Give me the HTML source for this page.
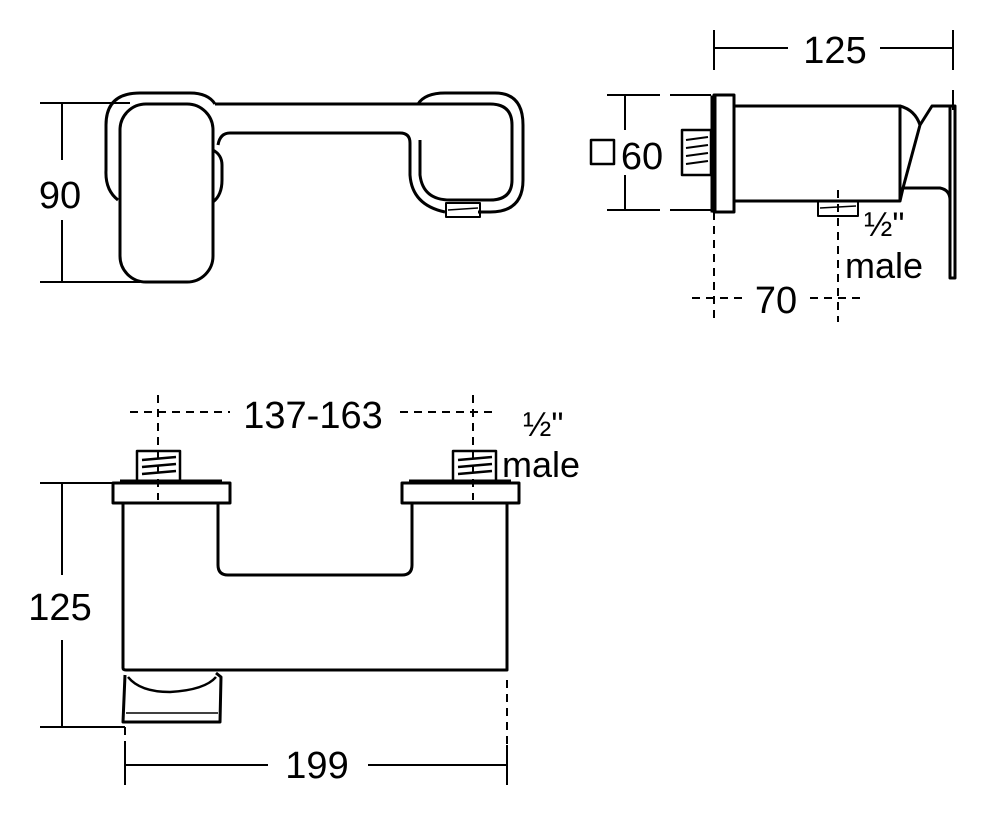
<!DOCTYPE html>
<html><head><style>
html,body{margin:0;padding:0;background:#fff;}
svg{display:block;}
text{font-family:"Liberation Sans",sans-serif;fill:#000;}
</style></head><body>
<svg width="987" height="818" viewBox="0 0 987 818" xmlns="http://www.w3.org/2000/svg">
<g fill="none" stroke="#000" stroke-width="3" stroke-linejoin="round">
<line x1="62" y1="103" x2="62" y2="160" stroke-width="2"/>
<line x1="62" y1="220" x2="62" y2="282" stroke-width="2"/>
<line x1="40" y1="103" x2="130" y2="103" stroke-width="2"/>
<line x1="40" y1="282" x2="140" y2="282" stroke-width="2"/>
<path d="M118 200 Q105 190 106 170 L106 125 Q106 93 140 93 L190 93 Q208 93 215 104"/>
<path d="M213 150 Q222 155 222 165 L222 180 Q222 195 213 202"/>
<path d="M418 104 Q425 93 445 93 L495 93 Q523 93 523 125 L523 180 Q523 212 490 212 L478 212"/>
<path d="M445 212 Q412 205 410 175 L410 143 Q410 133 400 133 L230 133 Q220 133 218 145"/>
<path d="M215 104 L490 104 Q512 104 512 125 L512 180 Q512 200 490 200 L450 200 Q423 200 420 175 L420 140"/>
<rect x="120" y="104" width="93" height="178" rx="26" fill="#fff"/>
<rect x="446" y="203" width="34" height="14" stroke-width="2"/>
<line x1="448" y1="210" x2="478" y2="208" stroke-width="1.5"/>
<line x1="714" y1="30" x2="714" y2="70" stroke-width="2"/>
<line x1="953" y1="30" x2="953" y2="70" stroke-width="2"/>
<line x1="714" y1="48" x2="788" y2="48" stroke-width="2"/>
<line x1="880" y1="48" x2="953" y2="48" stroke-width="2"/>
<line x1="953" y1="90" x2="953" y2="110" stroke-width="2"/>
<line x1="607" y1="95" x2="660" y2="95" stroke-width="2"/>
<line x1="670" y1="95" x2="711" y2="95" stroke-width="2"/>
<line x1="607" y1="210" x2="660" y2="210" stroke-width="2"/>
<line x1="670" y1="210" x2="711" y2="210" stroke-width="2"/>
<line x1="625" y1="95" x2="625" y2="130" stroke-width="2"/>
<line x1="625" y1="175" x2="625" y2="210" stroke-width="2"/>
<rect x="591" y="140" width="23" height="24" stroke-width="2.5"/>
<rect x="711" y="96" width="5" height="116" fill="#000" stroke-width="1"/>
<rect x="714" y="95" width="20" height="117"/>
<rect x="734" y="106" width="166" height="95"/>
<path d="M900 106 Q915 110 920 125 L903 188 L900 201"/>
<path d="M920 125 L932 106 L950 106 L950 278 L955 278 L955 106 L950 106"/>
<path d="M903 188 L940 188 Q950 190 950 200"/>
<rect x="682" y="130" width="29" height="45" stroke-width="2.5"/>
<path d="M686 140 L708 137 M686 148 L708 145 M686 156 L708 153 M686 164 L708 161" stroke-width="2"/>
<rect x="818" y="201" width="40" height="15" stroke-width="2"/>
<line x1="820" y1="208" x2="856" y2="206" stroke-width="1.5"/>
<g stroke-width="2" stroke-dasharray="8,6">
<line x1="714" y1="212" x2="714" y2="322"/>
<line x1="838" y1="190" x2="838" y2="322"/>
<line x1="692" y1="298" x2="745" y2="298"/>
<line x1="810" y1="298" x2="860" y2="298"/>
<line x1="158" y1="395" x2="158" y2="500"/>
<line x1="473" y1="395" x2="473" y2="500"/>
<line x1="130" y1="412" x2="230" y2="412"/>
<line x1="400" y1="412" x2="495" y2="412"/>
<line x1="125" y1="727" x2="125" y2="745"/>
<line x1="507" y1="680" x2="507" y2="745"/>
</g>
<line x1="62" y1="483" x2="62" y2="575" stroke-width="2"/>
<line x1="62" y1="640" x2="62" y2="727" stroke-width="2"/>
<line x1="40" y1="483" x2="113" y2="483" stroke-width="2"/>
<line x1="40" y1="727" x2="125" y2="727" stroke-width="2"/>
<line x1="125" y1="745" x2="125" y2="785" stroke-width="2"/>
<line x1="507" y1="745" x2="507" y2="785" stroke-width="2"/>
<line x1="125" y1="765" x2="268" y2="765" stroke-width="2"/>
<line x1="368" y1="765" x2="507" y2="765" stroke-width="2"/>
<path d="M123 503 L123 668 Q123 670 126 670 L507 670 L507 503 L412 503 L412 565 Q412 575 402 575 L228 575 Q218 575 218 565 L218 503"/>
<rect x="113" y="483" width="117" height="20"/>
<rect x="402" y="483" width="117" height="20"/>
<line x1="120" y1="481" x2="222" y2="481" stroke-width="3"/>
<line x1="409" y1="481" x2="511" y2="481" stroke-width="3"/>
<rect x="137" y="451" width="43" height="30" stroke-width="2.5"/>
<rect x="453" y="451" width="43" height="30" stroke-width="2.5"/>
<path d="M142 460 L176 457 M142 467 L176 464 M142 474 L176 471 M458 460 L492 457 M458 467 L492 464 M458 474 L492 471" stroke-width="2.5"/>
<path d="M125 675 L123 722 L220 722 L221 677 L216 673"/>
<path d="M128 677 Q140 692 170 692 Q205 690 216 677" stroke-width="2.5"/>
<line x1="126" y1="713" x2="218" y2="713" stroke-width="1.5"/>
</g>
<text x="60" y="208" font-size="38" text-anchor="middle">90</text>
<text x="835" y="63" font-size="38" text-anchor="middle">125</text>
<text x="642" y="169" font-size="38" text-anchor="middle">60</text>
<text x="776" y="313" font-size="38" text-anchor="middle">70</text>
<text x="864" y="236" font-size="34">½"</text>
<text x="845" y="278" font-size="36">male</text>
<text x="313" y="428" font-size="38" text-anchor="middle">137-163</text>
<text x="523" y="436" font-size="34">½"</text>
<text x="502" y="477" font-size="36">male</text>
<text x="60" y="620" font-size="38" text-anchor="middle">125</text>
<text x="317" y="778" font-size="38" text-anchor="middle">199</text>
</svg>
</body></html>
